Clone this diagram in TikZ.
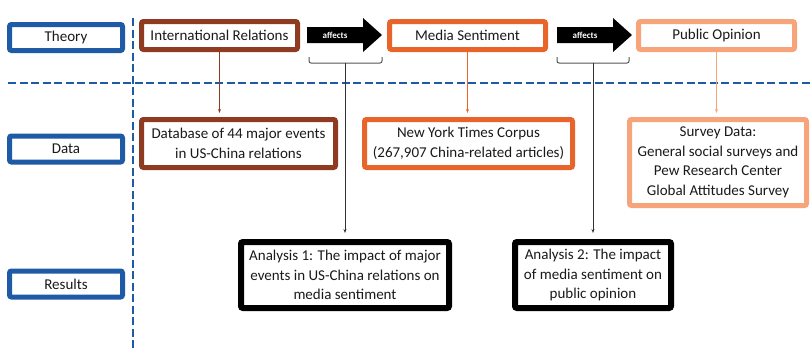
\documentclass[tikz,border=0pt]{standalone}
\usepackage{fontspec}
\setmainfont{Carlito}
\usetikzlibrary{arrows.meta}
\definecolor{tblue}{HTML}{1F5AA6}
\definecolor{tbrown}{HTML}{8E3B21}
\definecolor{torange}{HTML}{E8642A}
\definecolor{tlight}{HTML}{F7A47B}
\definecolor{txt}{HTML}{1A1A1A}
\definecolor{stemgrey}{HTML}{555555}
\begin{document}
\begin{tikzpicture}[x=1pt,y=-1pt,
  box/.style={draw, line width=5pt, rounded corners=2pt, fill=white, align=center,
    inner sep=0pt, text=txt, font=\fontsize{15}{19.5}\selectfont},
  lbl/.style={box, draw=tblue, minimum width=113pt, minimum height=26pt},
  irbox/.style={box, draw=tbrown},
  msbox/.style={box, draw=torange},
  pobox/.style={box, draw=tlight},
  anbox/.style={box, draw=black, line width=6pt, minimum width=208pt, minimum height=66pt},
  divider/.style={draw=tblue, line width=2.8pt, dash pattern=on 8pt off 3.5pt},
  feed/.style={line width=0.9pt, -{Stealth[length=4pt,width=3pt]}, shorten >=4pt},
  bracket/.style={draw=stemgrey, line width=1pt, rounded corners=2pt},
  stem/.style={draw=black!80, line width=1pt, -{Stealth[length=4pt,width=3pt]}, shorten >=6pt},
  afftext/.style={text=white, font=\fontsize{9}{10}\selectfont\bfseries, inner sep=0pt}
]
\useasboundingbox (0,0) rectangle (810,348);

% dividers
\coordinate (vtop) at (133,18);
\coordinate (vbot) at (133,348);
\coordinate (hleft) at (8,83);
\coordinate (hright) at (810,83);
\draw[divider] (vtop) -- (vbot);
\draw[divider] (hleft) -- (hright);

% row labels
\node[lbl] (theory) at (66,37.5) {Theory};
\node[lbl] (data) at (66,149) {Data};
\node[lbl] (results) at (66,284) {Results};

% theory row
\node[irbox, minimum width=156pt, minimum height=28pt] (ir) at (219.5,35.5) {International Relations};
\node[msbox, minimum width=156pt, minimum height=28pt] (ms) at (467.5,35.5) {Media Sentiment};
\node[pobox, minimum width=156pt, minimum height=28pt] (po) at (716.5,35.5) {Public Opinion};

% affects arrows
\fill[black] (307,27) -- (363,27) -- (363,18) -- (382,35) -- (363,52) -- (363,43) -- (307,43) -- cycle;
\node[afftext] (aff1) at (335,35) {affects};
\fill[black] (557,27) -- (613,27) -- (613,18) -- (632,35) -- (613,52) -- (613,43) -- (557,43) -- cycle;
\node[afftext] (aff2) at (585,35) {affects};

% data row
\node[irbox, minimum width=194pt, minimum height=48pt] (ird) at (238.5,143.5) {Database of 44 major events\\in US-China relations};
\node[msbox, minimum width=208pt, minimum height=48pt] (msd) at (468.5,143.5) {New York Times Corpus\\(267,907 China-related articles)};
\node[pobox, minimum width=177pt, minimum height=86pt] (pod) at (718,162.5) {Survey Data:\\General social surveys and\\Pew Research Center\\Global Attitudes Survey};

% results row
\node[anbox] (an1) at (345,275) {Analysis 1: The impact of major\\events in US-China relations on\\media sentiment};
\node[anbox, minimum width=156pt] (an2) at (593,275) {Analysis 2: The impact\\of media sentiment on\\public opinion};

% feed connectors
\draw[feed, draw=tbrown] (ir.south) -- (ird.north -| ir.south);
\draw[feed, draw=torange] (ms.south) -- (msd.north -| ms.south);
\draw[feed, draw=tlight] (po.south) -- (pod.north -| po.south);

% brackets and stems
\draw[bracket] (309,57) -- (309,63) -- (382,63) -- (382,57);
\coordinate (b1) at (345,63);
\draw[stem] (b1) -- (an1.north);
\draw[bracket] (557,57) -- (557,63) -- (629,63) -- (629,57);
\coordinate (b2) at (593,63);
\draw[stem] (b2) -- (an2.north);
\end{tikzpicture}
\end{document}
